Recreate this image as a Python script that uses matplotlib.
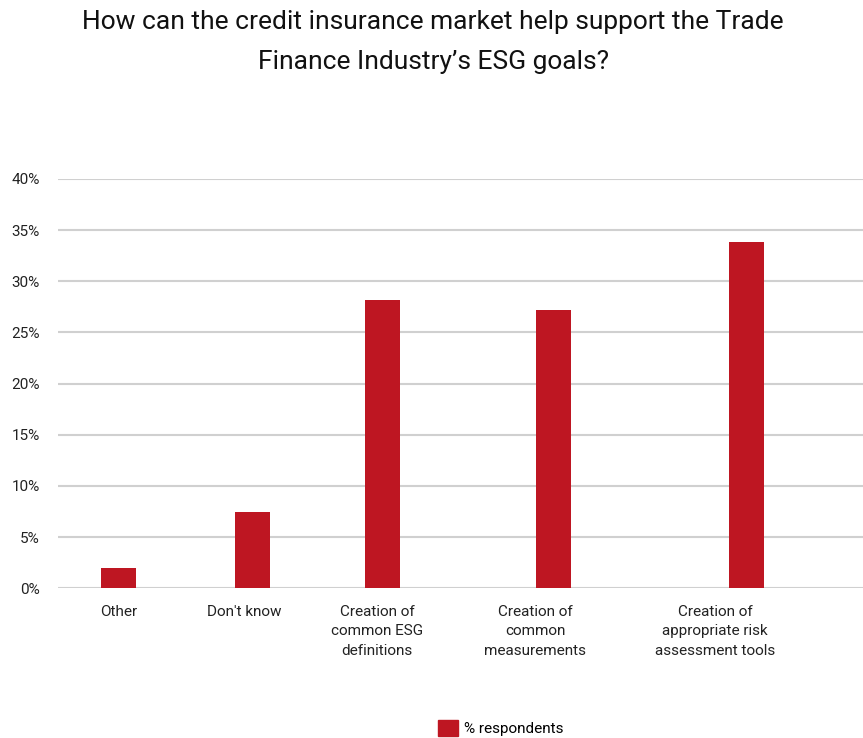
import matplotlib
matplotlib.use("Agg")
import matplotlib.pyplot as plt
from matplotlib.patches import Patch

plt.rcParams['font.family'] = ['Roboto', 'DejaVu Sans']

categories = ["Other", "Don't know", "Creation of\ncommon ESG\ndefinitions",
              "Creation of\ncommon\nmeasurements",
              "Creation of\nappropriate risk\nassessment tools"]
respondents = [2.0, 7.5, 28.2, 27.2, 33.8]
yticks = [0, 5, 10, 15, 20, 25, 30, 35, 40]

# layout (x in pixel-like units along the axis)
bar_x = [118.5, 252.5, 382.5, 553.5, 746.5]
label_x = [118.5, 244, 377, 535, 715]
red = '#be1622'

fig = plt.figure(figsize=(8.63, 7.38), dpi=100)
ax = fig.add_axes([58/863, (738-588.3)/738, 1 - 58/863, (588.3-179)/738])

ax.bar(bar_x, respondents, width=35, color=red, zorder=3)
ax.set_xlim(58, 863)
ax.set_ylim(0, 40)

ax.set_yticks(yticks)
ax.set_yticklabels([f"{t}%" for t in yticks], fontsize=11, color='#222222')
ax.set_xticks(label_x)
ax.set_xticklabels(categories, fontsize=11, color='#222222', linespacing=1.5,
                   va='top')
ax.tick_params(axis='y', length=0, pad=13)
ax.tick_params(axis='x', length=0, pad=12)

ax.grid(axis='y', color='#d0d0d0', linewidth=1.5, zorder=0)
for s in ax.spines.values():
    s.set_visible(False)

fig.text(433/863, 1 - 10/738,
         "How can the credit insurance market help support the Trade\nFinance Industry\u2019s ESG goals?",
         ha='center', va='top', fontsize=19, linespacing=1.85, color='#111111')

fig.legend(handles=[Patch(color=red, label='% respondents')],
           loc='center', bbox_to_anchor=(501/863, 1 - 728/738),
           frameon=False, fontsize=11, handlelength=1.3, handleheight=1.3,
           handletextpad=0.4)

fig.savefig("out.png", dpi=100)
